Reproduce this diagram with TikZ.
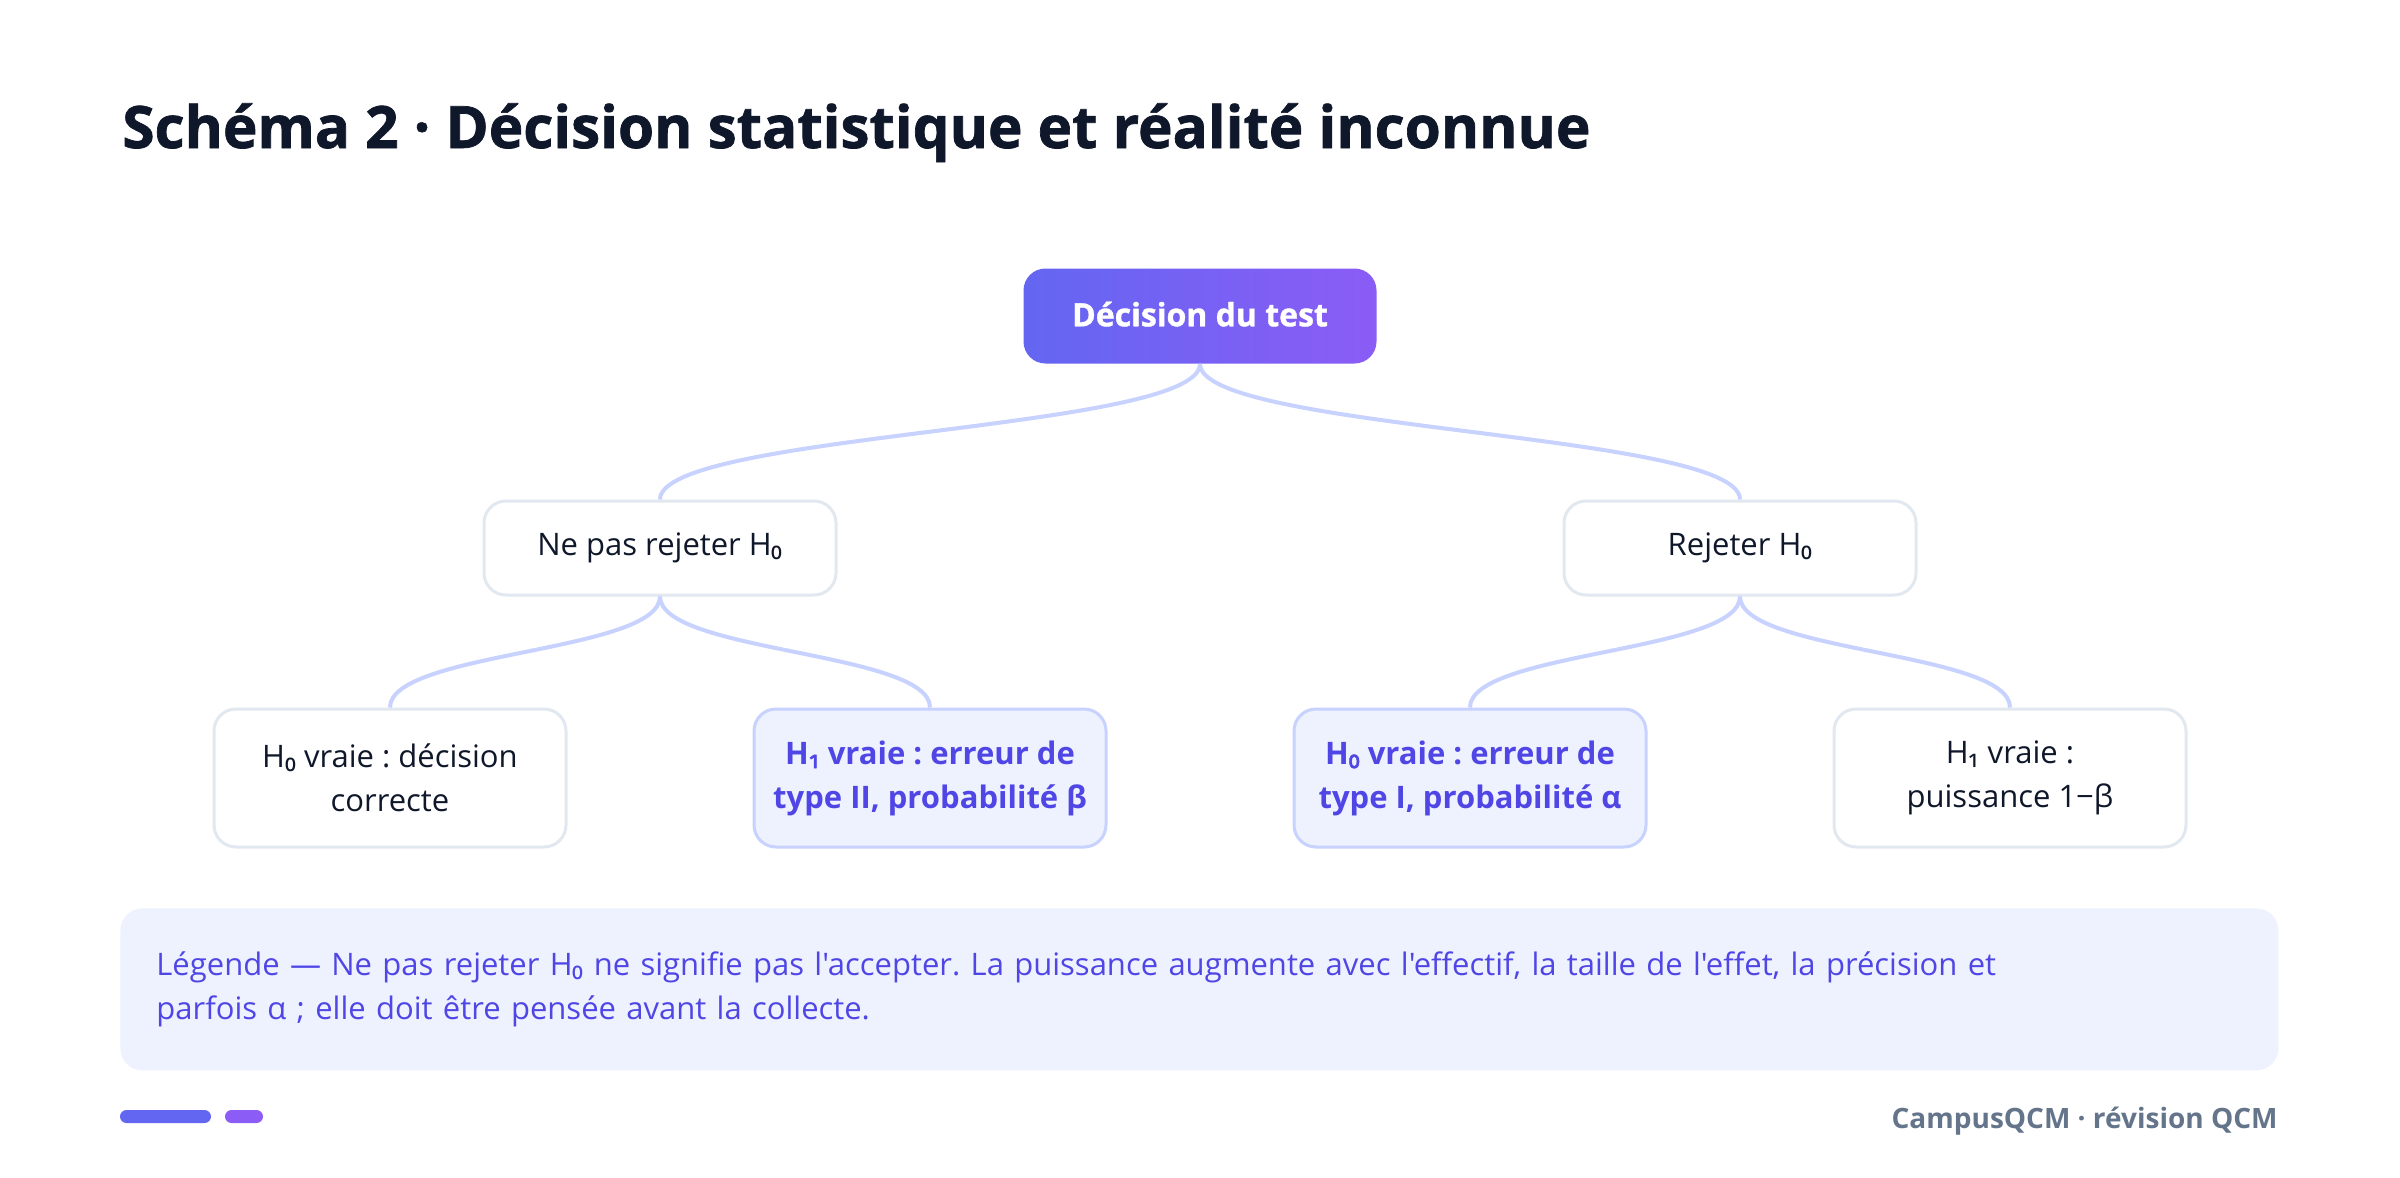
\documentclass[tikz,border=0pt]{standalone}
\usepackage{fontspec}
\setmainfont{Open Sans}[Ligatures=TeXOff]
\newfontfamily\grasfort{Open Sans}[BoldFeatures={FakeBold=1.2}]
\newfontfamily\indice{Noto Sans}[AutoFakeBold=1.5]
\newcommand{\izero}{{\indice ₀}}
\newcommand{\iun}{{\indice ₁}}
\usepackage{tikz}
\usetikzlibrary{positioning}

\definecolor{encre}{HTML}{0F172A}
\definecolor{lienbleu}{HTML}{C7D2FE}
\definecolor{bordgris}{HTML}{E2E8F0}
\definecolor{fondbleu}{HTML}{EEF2FF}
\definecolor{indigo}{HTML}{4F46E5}
\definecolor{ardoise}{HTML}{64748B}
\definecolor{degradeA}{HTML}{6366F1}
\definecolor{degradeB}{HTML}{8B5CF6}

\begin{document}
\frenchspacing
\begin{tikzpicture}[x=0.5pt, y=-0.5pt]
    \tikzset{racine/.style = {shape=rectangle, rounded corners=11pt, left color=degradeA, right color=degradeB, draw=none, minimum width=176.5pt, minimum height=47.5pt, text=white, font=\fontsize{16}{20}\grasfort\bfseries}}
    \tikzset{choix/.style = {shape=rectangle, rounded corners=11pt, draw=bordgris, line width=1.5pt, fill=white, minimum width=176pt, minimum height=47pt, text=encre, font=\fontsize{15.5}{22}\selectfont, align=center}}
    \tikzset{issue/.style = {choix, minimum height=69pt}}
    \tikzset{erreur/.style = {issue, draw=lienbleu, fill=fondbleu, text=indigo, font=\fontsize{15.5}{22}\selectfont\bfseries}}
    \tikzset{lien/.style = {draw=lienbleu, line width=2pt, -}}

    \useasboundingbox (0,0) rectangle (2400,1178);
    \fill[white] (0,0) rectangle (2400,1178);

    % titre
    \node[anchor=base west, inner sep=0pt, text=encre, font=\fontsize{29.2}{36}\grasfort\bfseries] (titre) at (122,148) {Schéma 2 · Décision statistique et réalité inconnue};

    % noeuds
    \node[racine] (decision) at (1200,316) {\raisebox{2pt}{Décision du test}};
    \node[choix] (nonrej) at (660,548) {Ne pas rejeter H\izero};
    \node[choix] (rej) at (1740,548) {Rejeter H\izero};
    \node[issue] (correcte) at (390,778) {H\izero{} vraie : décision\\correcte};
    \node[erreur] (typedeux) at (930,778) {H\iun{} vraie : erreur de\\type II, probabilité β};
    \node[erreur] (typeun) at (1470,778) {H\izero{} vraie : erreur de\\type I, probabilité α};
    \node[issue] (puissance) at (2010,778) {H\iun{} vraie :\\puissance 1−β};

    % liens
    \draw[lien] (decision.south) .. controls +(0,67) and +(0,-67) .. (nonrej.north);
    \draw[lien] (decision.south) .. controls +(0,67) and +(0,-67) .. (rej.north);
    \draw[lien] (nonrej.south) .. controls +(0,56) and +(0,-56) .. (correcte.north);
    \draw[lien] (nonrej.south) .. controls +(0,56) and +(0,-56) .. (typedeux.north);
    \draw[lien] (rej.south) .. controls +(0,56) and +(0,-56) .. (typeun.north);
    \draw[lien] (rej.south) .. controls +(0,56) and +(0,-56) .. (puissance.north);

    % legende
    \node[anchor=north west, shape=rectangle, rounded corners=11pt, fill=fondbleu, minimum width=1079pt, minimum height=81pt, text width=1043pt, inner xsep=18pt, align=left, text=indigo, font=\fontsize{15.5}{22}\selectfont] (legende) at (120,908) {\raisebox{4pt}{Légende — Ne pas rejeter H\izero{} ne signifie pas l'accepter. La puissance augmente avec l'effectif, la taille de l'effet, la précision et}\\\raisebox{4pt}{parfois α ; elle doit être pensée avant la collecte.}};

    % pied de page
    \fill[degradeA, rounded corners=3.25pt] (120,1110) rectangle (211,1123);
    \fill[degradeB, rounded corners=3.25pt] (225,1110) rectangle (263,1123);
    \node[anchor=base east, inner sep=0pt, text=ardoise, font=\fontsize{14}{18}\selectfont\bfseries] (pied) at (2278,1128) {CampusQCM · révision QCM};
\end{tikzpicture}
\end{document}
